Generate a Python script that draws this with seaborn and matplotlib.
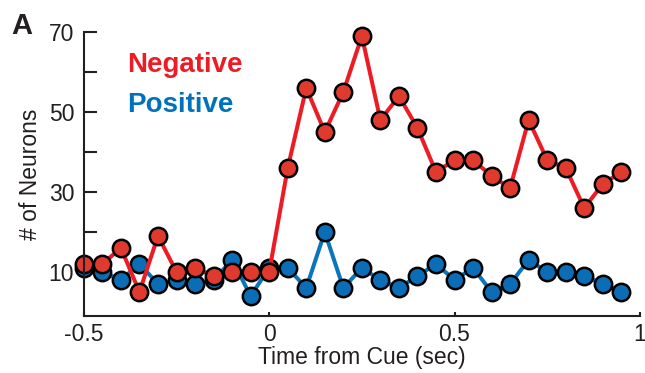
import numpy as np
import pandas as pd
import matplotlib.pyplot as plt
import seaborn as sns

# time bins (sec from cue)
time = np.round(np.arange(-0.5, 0.951, 0.05), 2)

negative = [12, 12, 16, 5, 19, 10, 11, 9, 10, 10,
            10, 36, 56, 45, 55, 69, 48, 54, 46, 35,
            38, 38, 34, 31, 48, 38, 36, 26, 32, 35]
positive = [11, 10, 8, 12, 7, 8, 7, 8, 13, 4,
            11, 11, 6, 20, 6, 11, 8, 6, 9, 12,
            8, 11, 5, 7, 13, 10, 10, 9, 7, 5]

df = pd.DataFrame({"time": time, "Negative": negative, "Positive": positive})

sns.set_style("ticks")
plt.rcParams['font.family'] = ['Liberation Sans', 'DejaVu Sans']

dark = "#231F20"
red_line, red_face = "#ED1C24", "#E03A2F"
blue_line, blue_face = "#0A75BC", "#0B6DB5"

fig = plt.figure(figsize=(6.45, 3.73), dpi=100)
ax = fig.add_axes([0.130, 0.153, 0.862, 0.761])

sns.lineplot(data=df, x="time", y="Positive", ax=ax, color=blue_line, lw=2.9,
             marker="o", markersize=12.5, markerfacecolor=blue_face,
             markeredgecolor="black", markeredgewidth=1.8, clip_on=False)
sns.lineplot(data=df, x="time", y="Negative", ax=ax, color=red_line, lw=2.9,
             marker="o", markersize=12.5, markerfacecolor=red_face,
             markeredgecolor="black", markeredgewidth=1.8, clip_on=False)

ax.set_xlim(-0.5, 1.0)
ax.set_ylim(-1, 70)
ax.set_xticks([-0.5, 0, 0.5, 1])
ax.set_xticklabels(["-0.5", "0", "0.5", "1"])
ax.set_yticks([10, 20, 30, 40, 50, 60, 70])
ax.set_yticklabels(["10", "", "30", "", "50", "", "70"])

ax.tick_params(axis='x', direction='in', length=3, width=1.5, pad=5,
               labelsize=16.5, colors=dark)
ax.tick_params(axis='y', direction='in', length=9, width=1.5, pad=7,
               labelsize=16.5, colors=dark)

for side in ["top", "right"]:
    ax.spines[side].set_visible(False)
for side in ["left", "bottom"]:
    ax.spines[side].set_linewidth(1.5)
    ax.spines[side].set_color(dark)

ax.set_xlabel("Time from Cue (sec)", fontsize=16.5, color=dark, labelpad=0)
ax.set_ylabel("# of Neurons", fontsize=16.5, color=dark, labelpad=5)

fig.text(127 / 645, 1 - 72 / 373, "Negative", color="#ED1C24",
         fontsize=20, fontweight="bold", va="baseline")
fig.text(127 / 645, 1 - 112 / 373, "Positive", color="#0072BC",
         fontsize=20, fontweight="bold", va="baseline")
fig.text(11 / 645, 1 - 34 / 373, "A", color=dark,
         fontsize=21, fontweight="bold", va="baseline")

fig.savefig("out.png", dpi=100)
